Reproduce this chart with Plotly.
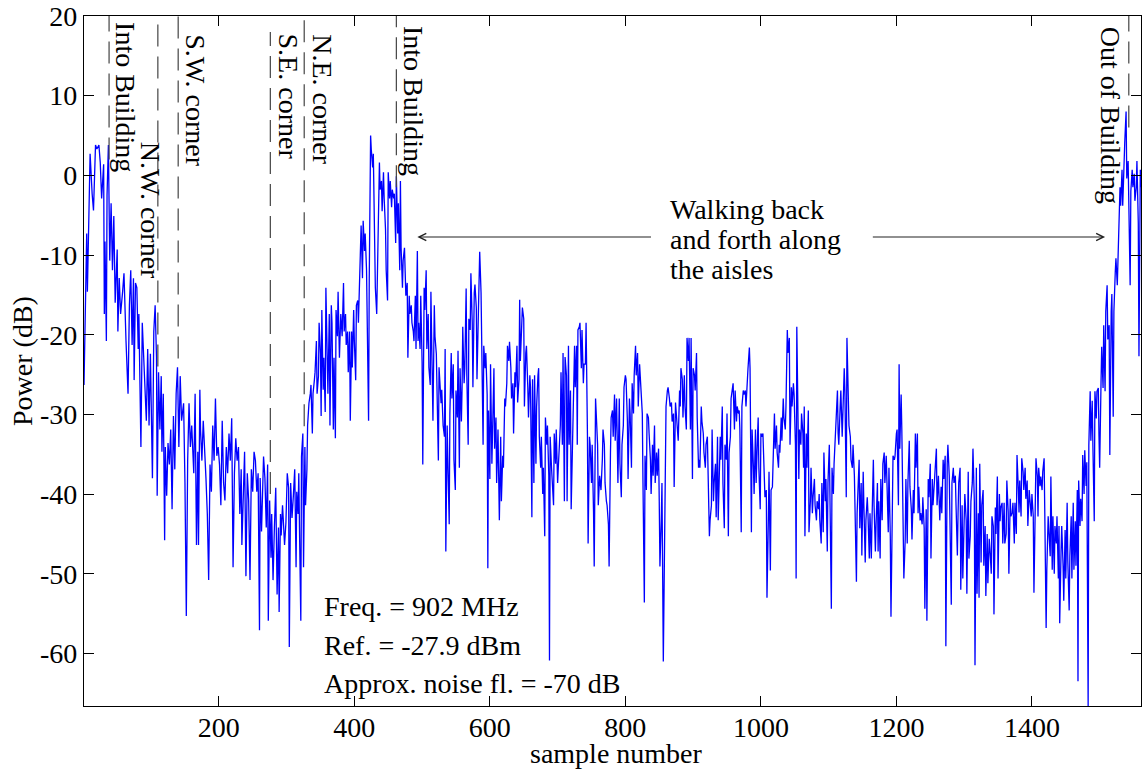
import plotly.graph_objects as go

# Received power while walking through the building (sample number vs dB)
samples_a = [1, 5, 6, 10, 13, 15, 18, 20, 23, 25, 27, 30, 31, 32, 34, 35, 37, 39, 41, 43,
             45, 47, 50, 51, 53, 55, 58, 60, 63, 65, 66, 68, 70, 72, 74, 75, 77, 79, 81, 82,
             84, 85, 87, 89, 91, 93, 95, 97, 99, 100, 102, 104, 106, 108, 109, 111, 113, 115, 116, 118,
             120, 121, 123, 125, 127, 129, 131, 133, 135, 137, 139, 141, 143, 145, 148, 150, 152, 154, 156, 158,
             160, 163, 165, 167, 169, 170, 172, 173, 175, 177, 179, 181, 183, 185, 187, 189, 191, 193, 195, 197,
             199, 201, 203, 205, 207, 209, 211, 213, 215, 217, 219, 221, 223, 225, 227, 229, 231, 233, 234, 236,
             238, 240, 242, 244, 246, 248, 250, 252, 254, 256, 258, 260, 261, 263, 265]
power_a = [-26.3, -7.3, -14.6, 2.7, -2.3, -4.4, 3.8, 3.3, 3.8, 1.6, -2.9, 1.4, -17.4, -8.3, -20.8, -2.5, 3.8, -10.7, -3.5, -11.9,
           -5.1, -16, -9.3, -19.6, -12.9, -17.4, -14.6, -12.3, -20.8, -24.7, -27.4, -16.3, -11.9, -21.3, -12.9, -25.7, -13.5, -14.1, -21.8, -17.4,
           -25.7, -34.1, -18.5, -22.9, -25.2, -30.8, -21.8, -31.4, -22.4, -26.3, -38, -19.6, -16.3, -22.9, -40.2, -24.7, -31.9, -25.2, -34.7, -27.4,
           -45.8, -34.1, -40.2, -33.6, -36.3, -31.9, -41.9, -30.2, -36.9, -27.4, -24.1, -34.1, -25.2, -30.8, -28.6, -38.6, -55.3, -35.8, -28.6, -34.1,
           -31.4, -37.4, -27.4, -46.4, -34.7, -46.4, -26.9, -31.9, -35.8, -30.8, -34.1, -38, -42.5, -50.8, -36.3, -39.7, -31.4, -35.8, -28, -35.2,
           -34.1, -36.3, -41.4, -30.8, -38.6, -40.8, -34.1, -37.4, -32.4, -35.8, -30.5, -49.2, -37.4, -33, -35.8, -34.1, -42.5, -36.9, -46.4, -38.6,
           -34.7, -50.3, -37.4, -40.8, -50.8, -36.9, -39.7, -34.7, -35.8, -39.7, -37.4, -57.1, -38, -44.7, -36.9]

samples_b = [266, 268, 270, 272, 273, 275, 277, 278, 280, 282, 284, 286, 288, 289, 291, 292, 294, 295, 297, 299,
             301, 303, 304, 306, 308, 310, 312, 314, 315, 317, 318, 319, 321, 322, 324, 325, 327, 328, 330, 331,
             333, 335, 336, 338, 339, 341, 342, 344, 345, 347, 348, 350, 351, 352, 354, 355, 357, 358, 360, 361,
             363, 364, 366, 367, 369, 370, 372, 373, 375, 376, 378, 379, 380, 382, 384, 385, 387, 388, 390, 391,
             393, 394, 396, 397, 399, 400, 402, 403, 405, 406, 408, 409, 410, 412, 413, 415, 416, 418, 419, 421,
             422, 424, 425, 427, 428, 430, 431, 433, 434, 436, 437, 438, 440, 441, 443, 444, 446, 447, 449, 450,
             452, 453, 455, 456, 458, 459, 461, 462, 464, 465, 467, 468, 469, 471, 472, 474, 476, 478, 479, 481,
             482, 484, 485, 487, 488, 490, 491, 493, 494, 495, 497, 498, 500, 501, 503, 504, 506, 507, 509, 510,
             512, 513, 515, 516, 518, 519, 521, 522, 524, 525, 526, 528, 529, 531]
power_b = [-35.3, -38, -44.2, -36.3, -55.9, -40.8, -48, -42.5, -50.8, -44.2,
           -39.2, -52.6, -44.2, -54.8, -42.5, -45.2, -41.4, -43, -46.4, -43.6,
           -37.4, -39.2, -59.2, -38.6, -43, -40.2, -36.9, -49.2, -39.7, -42.5,
           -37.4, -44.2, -55.9, -35.3, -32.4, -49.2, -34.1, -41.4, -36.9, -31.4,
           -28.6, -27.4, -26.3, -32.4, -27.4, -25.7, -24.7, -20.8, -27.4, -25.2,
           -18.5, -22.4, -30.2, -16.9, -26.9, -22.9, -29.7, -14.1, -22.9, -27.4,
           -17.4, -31.4, -16.3, -18.5, -31.9, -22.9, -33, -16.9, -20.2, -14.6,
           -22.9, -20.8, -17.4, -20.2, -13.5, -19.6, -17.4, -21.3, -19.6, -24.7,
           -19.6, -30.8, -19.6, -24.1, -16.9, -20.8, -25.7, -16.3, -15.7, -18.5,
           -12.4, -10.7, -6.3, -12.9, -5.7, -9.5, -7.3, -11.9, -17.4, -30.8,
           -12.9, 5.0, 3.2, 1.0, 2.7, -6.3, -14.1, -17.4, -11.9, -6.3,
           1.6, -1.8, -0.7, -4.5, 0.4, -2.9, -6.8, -11.9, -15.7, 0.4,
           -2.9, -0.7, -4, -1.8, -2.9, -2.3, -8.5, -0.1, -7.3, -3.5,
           -11.9, -0.7, -9.1, -14.1, -10.7, -9.1, -15.1, -13.5, -22.9, -15.1,
           -17.4, -16.3, -18.5, -19.6, -20.8, -15.1, -21.8, -9.5, -20.8, -18.5,
           -21.8, -15.1, -23.5, -36.3, -14.1, -16.9, -11.9, -21.8, -17.4, -24.1,
           -26.3, -14.6, -29.7, -30.8, -16.3, -20.2, -22.4, -27.4, -35.8, -24.1,
           -26.3, -28.6, -26.9, -31.4]

samples_c = [533, 534, 535, 537, 538, 540, 541, 543, 544,
             546, 547, 549, 550, 552, 553, 555, 556, 558, 559,
             560, 562, 563, 565, 566, 568, 569, 571, 572, 574,
             575, 577, 578, 580, 581, 583, 584, 585, 587, 588,
             590, 591, 593, 594, 596, 597, 598, 600, 601, 603,
             604, 606, 607, 609, 610, 612, 613, 614, 616, 617,
             619, 620, 622, 623, 625, 626, 628, 629, 631, 632,
             634, 635, 637, 638, 640, 641, 643, 644, 645, 647,
             648, 650, 651, 653, 654, 656, 657, 659, 660, 662,
             663, 665, 666, 668, 669, 671, 672, 673, 675, 676,
             678, 679, 681, 682, 684, 685, 687, 688, 689, 691,
             692, 694, 695, 697, 698, 700, 701, 703, 704, 705,
             707, 708, 710, 711, 713, 714, 716, 717, 719, 720,
             722, 723, 725, 726, 728, 729, 730, 732, 733, 735,
             736, 738, 739, 741, 742, 744, 745, 747, 748, 750,
             751, 753, 754, 756, 757, 759, 760, 762, 763, 764,
             766, 767, 769, 770, 772, 773, 775, 776, 778, 779,
             781, 782, 784, 785, 787, 788, 789, 791, 792, 794,
             795, 797]
power_c = [-32.8, -21.8, -47.2, -31.4, -35.7, -43.8, -29.9, -22.3, -28,
           -23.7, -35.7, -39.5, -27, -30.4, -22, -36.7, -24.2, -30.9, -26.6,
           -19, -26.1, -24.2, -14.2, -25.1, -33.8, -18, -19.4, -12.3, -18.5,
           -26.6, -14.7, -13.7, -16.6, -25.6, -17.5, -12.3, -9.6, -14.7, -21.4,
           -33.8, -21.4, -24.2, -22.3, -27.5, -49.3, -29.5, -38.1, -23.7, -36.2,
           -29.9, -24.2, -34.3, -30.4, -38.6, -31.9, -37.7, -43.3, -32.8, -40.9,
           -35.2, -36.7, -28, -29, -26.1, -21.4, -23.3, -20.9, -24.2, -28,
           -26.1, -32.4, -24.7, -26.6, -21.4, -28.5, -25.6, -15.6, -23.3, -19.4,
           -16.6, -18, -29, -22.3, -21.4, -26.6, -30.4, -25.1, -26.6, -42.9,
           -25.6, -38.6, -25.1, -36.2, -29, -25.1, -24.2, -32.8, -36.7, -32.8,
           -40, -36.7, -45.3, -30.4, -33.8, -31.4, -37.7, -60.9, -32.8, -36.7,
           -39.1, -41.4, -32.4, -36.2, -31.9, -38.6, -36.7, -33.8, -31.4, -24.7,
           -33.8, -22.3, -40.9, -22.8, -25.1, -40.9, -21.4, -33.8, -27, -41.9,
           -32.8, -27, -21.4, -26.6, -21.4, -33.8, -19.4, -19, -18.5, -24.2,
           -19.4, -26.1, -23.7, -23.7, -18.5, -32.4, -46.2, -32.8, -33.8, -38.6,
           -33.8, -42.2, -49.1, -28, -29.9, -33.8, -41.4, -37.7, -38.6, -39.5,
           -35.7, -31.9, -33.8, -38.6, -40.9, -41.4, -43.8, -49.1, -34.8, -30.4,
           -29.5, -32.8, -27.5, -33.3, -28, -33.8, -38.6, -28, -36.2, -40.4,
           -33.8, -31.4]

samples_d = [798, 800, 801, 803, 804, 806, 807, 809, 810, 812,
             813, 815, 816, 818, 819, 821, 822, 823, 825, 826,
             828, 829, 831, 832, 834, 835, 837, 838, 840, 841,
             843, 844, 846, 847, 849, 850, 851, 853, 854, 856,
             857, 859, 860, 862, 863, 865, 866, 868, 869, 871,
             872, 874, 875, 877, 878, 880, 881, 882, 884, 885,
             887, 888, 890, 891, 893, 894, 896, 897, 899, 900,
             902, 903, 905, 906, 908, 909, 910, 912, 913, 915,
             916, 918, 919, 921, 922, 924, 925, 927, 928, 930,
             931, 933, 934, 936, 937, 939, 940, 941, 943, 944,
             946, 947, 949, 950, 952, 953, 955, 956, 958, 959,
             961, 962, 964, 965, 967, 968, 969, 971, 972, 974,
             975, 977, 978, 980, 981, 983, 984, 986, 987, 989,
             990, 992, 993, 995, 996, 997, 999, 1000, 1002, 1003,
             1005, 1006, 1008, 1009, 1011, 1012, 1014, 1015, 1017, 1018,
             1020, 1021, 1023, 1024, 1026, 1027, 1028, 1030, 1031, 1033,
             1034, 1036, 1037, 1039, 1040, 1042, 1043, 1045, 1046, 1048,
             1049, 1051, 1052, 1053, 1055, 1056, 1057, 1059, 1060, 1062]
power_d = [-26.6, -25.1, -25.6, -30.9, -38.1, -28, -29.9, -36.7, -26.1, -29.9,
           -25.1, -21.4, -25.1, -22.3, -29, -23.7, -25.1, -27, -29.9, -38.6,
           -53.6, -35.2, -39.5, -29.9, -30.4, -32.4, -35.7, -40, -33.8, -37.7,
           -31.4, -38.6, -34.8, -37.7, -34.3, -40.9, -49.1, -43.3, -38.6, -61,
           -50.6, -32.8, -29, -27, -26.6, -28, -29, -28.5, -30.9, -29.9,
           -39.1, -28.5, -29.9, -31.4, -33.3, -27, -29, -24.2, -25.6, -30.4,
           -25.1, -29, -31.9, -20.4, -23.3, -20.4, -31.9, -20.4, -38.1, -24.2,
           -25.1, -27, -22.3, -30.4, -36.7, -35.7, -36.7, -29, -30.9, -32.4,
           -34.8, -36.7, -33.8, -32.8, -38.6, -45.3, -43.3, -41.4, -31.9, -40.9,
           -38.6, -36.2, -42.9, -32.8, -43.3, -33.3, -32.8, -35.7, -29, -38.6,
           -44.3, -33.8, -35.7, -29.9, -45.3, -34.8, -32.8, -28, -26.1, -26.1,
           -31.9, -27, -30.9, -29, -29.9, -29.5, -31.9, -44.8, -29, -27,
           -27.5, -27, -29, -25.1, -24.2, -21.6, -24.2, -44.8, -31.9, -36.7,
           -40, -31.9, -38.6, -32.8, -30.4, -36.7, -41.9, -32.4, -32.8, -32.4,
           -38.6, -40.4, -39.5, -53, -43.3, -37.2, -49.6, -39.5, -39.1, -35.2,
           -29.9, -34.3, -31.4, -34.8, -36.7, -33.8, -34.8, -30.4, -33.3, -28,
           -30.4, -31.9, -29, -19.4, -22.3, -20.4, -33.8, -26.6, -29, -26.1,
           -27.5, -33.8, -50.6, -19, -33.8, -38.1, -31.9, -33.8, -29.9, -32.4]

samples_e = [1063, 1064, 1065, 1067, 1068, 1070, 1071, 1073, 1074, 1076,
             1077, 1079, 1080, 1082, 1083, 1085, 1086, 1087, 1089, 1090,
             1092, 1093, 1095, 1096, 1098, 1099, 1101, 1102, 1104, 1105,
             1107, 1108, 1110, 1111, 1113, 1114, 1115, 1117, 1118, 1120,
             1121, 1123, 1124, 1126, 1127, 1129, 1130, 1132, 1133, 1135,
             1136, 1138, 1139, 1141, 1142, 1144, 1145, 1146, 1148, 1149,
             1151, 1152, 1154, 1155, 1157, 1158, 1160, 1161, 1163, 1164,
             1166, 1167, 1169, 1170, 1172, 1173, 1174, 1176, 1177, 1179,
             1180, 1182, 1183, 1185, 1186, 1188, 1189, 1191, 1192, 1194,
             1195, 1197, 1198, 1200, 1201, 1203, 1204, 1205, 1207, 1208,
             1210, 1211, 1213, 1214, 1216, 1217, 1219, 1220, 1222, 1223,
             1225, 1226, 1228, 1229, 1231, 1232, 1233, 1235, 1236, 1238,
             1239, 1241, 1242, 1244, 1245, 1247, 1248, 1250, 1251, 1253,
             1254, 1256, 1257, 1259, 1260, 1262, 1263, 1264, 1266, 1267,
             1269, 1270, 1272, 1273, 1275, 1276, 1278, 1279, 1281, 1282,
             1284, 1285, 1287, 1288, 1290, 1291, 1292, 1294, 1295, 1297,
             1298, 1300, 1301, 1303, 1304, 1306, 1307, 1309, 1310, 1312,
             1313, 1315, 1316, 1318, 1319, 1321, 1322, 1323, 1325, 1326,
             1328]
power_e = [-36.7, -29, -45.3, -32.4, -36.7, -29.5, -44.8, -40.9, -36.7, -42.4,
           -40.4, -38.1, -41.4, -43.3, -40.9, -41.9, -40, -43.3, -46.2, -38.6,
           -44.8, -34.8, -40.9, -38.1, -47.2, -38.6, -33.8, -40, -54.4, -36.7,
           -40, -36.2, -32.8, -29.5, -27, -32.4, -33.8, -29, -27, -32.8,
           -29, -24.2, -27, -40.4, -20.4, -30.9, -31.4, -32.8, -35.7, -36.7,
           -33.8, -37.7, -41.9, -51, -42.4, -38.6, -35.7, -44.3, -38.6, -47.7,
           -37.2, -41.4, -48.6, -43.3, -40.4, -42.4, -48.1, -42.4, -48.1, -43.3,
           -35.7, -41.4, -47.2, -43.8, -38.6, -47.2, -40.9, -48.1, -38.1, -43.3,
           -36.2, -34.8, -38.6, -35.2, -38.6, -44.8, -36.7, -45.3, -55.4, -36.7,
           -35.2, -35.7, -35.2, -32.4, -31.9, -41.4, -23.7, -34.3, -27.5, -31.9,
           -41.4, -50.6, -45.7, -38.1, -46.2, -38.6, -33.3, -39.1, -41.9, -45.7,
           -39.5, -42.4, -32.4, -36.7, -32.4, -42.4, -39.1, -43.3, -42.4, -43.8,
           -40.4, -44.3, -54.4, -41.9, -55.9, -38.1, -40.4, -36.2, -48.1, -38.1,
           -41.4, -38.6, -35.7, -34.3, -41.4, -37.7, -40.4, -43.3, -39.1, -42.4,
           -35.7, -38.1, -35.2, -59.1, -36.2, -33.8, -37.7, -42.4, -53.9, -38.6,
           -36.7, -38.6, -37.7, -41.4, -47.7, -42.4, -38.6, -36.7, -52, -41.4,
           -50.6, -43.3, -40, -43.3, -52.5, -37.2, -48.1, -45.3, -40.9, -38.6,
           -34.3, -40.9, -61.5, -36.7, -52.5, -42.4, -53, -36.2, -48.6, -41.4,
           -39.5]

samples_f = [1329, 1331, 1332, 1334, 1335, 1337, 1338, 1340, 1341, 1343,
             1344, 1346, 1347, 1349, 1350, 1352, 1353, 1354, 1356, 1357,
             1359, 1360, 1362, 1363, 1365, 1366, 1368, 1369, 1371, 1372,
             1374, 1375, 1377, 1378, 1380, 1381, 1382, 1384, 1385, 1387,
             1388, 1390, 1391, 1393, 1394, 1396, 1397, 1399, 1400, 1402,
             1403, 1405, 1406, 1408, 1409, 1410, 1412, 1413, 1415, 1416,
             1418, 1419, 1421, 1422, 1424, 1425, 1427, 1428, 1430, 1431,
             1433, 1434, 1436, 1437, 1439, 1440, 1441, 1443, 1444, 1446,
             1447, 1449, 1450, 1452, 1453, 1455, 1456, 1458, 1459, 1461,
             1462, 1464, 1465, 1467, 1468, 1469, 1471, 1472, 1474, 1475,
             1477, 1478, 1480, 1481, 1483, 1484, 1486, 1487, 1489, 1490,
             1492, 1493, 1495, 1496, 1498, 1499, 1500, 1502, 1503, 1505,
             1506, 1508, 1509, 1511, 1512, 1514, 1515, 1517, 1518, 1520,
             1521, 1523, 1524, 1526, 1527, 1528, 1530, 1531, 1533, 1534,
             1536, 1537, 1539, 1540, 1542, 1543, 1545, 1546, 1548, 1549,
             1551, 1552, 1554, 1555, 1557, 1558, 1559, 1560, 1561]
power_f = [-49, -44, -52.8, -45, -51.2, -45.6, -46.8, -50, -42.8, -44,
           -55.1, -41.7, -45, -37.8, -50.6, -40, -43.4, -41.7, -41.1, -46.2,
           -41.1, -46.2, -45, -38.3, -42.3, -50, -40.6, -42.8, -42.3, -41.1,
           -46.2, -41.1, -45, -35.1, -39.5, -42.3, -38.3, -42.8, -35.5, -37.2,
           -39.5, -36.7, -40.6, -38.3, -44, -39.5, -40.6, -42.8, -40, -42.8,
           -52.4, -38.3, -35.5, -37.8, -42.8, -36.7, -39, -37.8, -39.5, -37.2,
           -35.5, -42.3, -56.8, -49.5, -42.8, -44.5, -47.8, -37.8, -49.5, -42.8,
           -50, -44, -46.2, -42.8, -50.6, -44, -56.2, -47.2, -44, -49,
           -53.4, -44.5, -50.6, -41.1, -48.4, -54.6, -47.8, -42.8, -50.6, -41.1,
           -49.5, -43.4, -49, -39.5, -63.5, -38.3, -44, -40.6, -43.4, -35.1,
           -40, -34.5, -39, -36, -66.6, -33.9, -27.1, -33.3, -28.3, -33.9,
           -43.4, -27.1, -30.5, -27.1, -26.7, -32.7, -36.7, -26.1, -21.5, -26.7,
           -18.8, -27.1, -17.1, -13.8, -20.6, -18.8, -35.1, -17.1, -14.9, -30.3,
           -17.1, -12.2, -10.4, -13.8, -10.4, -7.6, -1.5, -3.8, 0.7, -3.8,
           3, 4.1, 8, -0.4, 1.8, -3.2, -13.8, -2, 0.7, -1.5,
           0.2, -3.2, -1.5, 1.8, -6, -22.7, -7.1, 0.7, -1.5]

# Marked events along the walk
event_sample = [38, 110, 140, 276, 326, 462, 1543]
event_label = ["Into Building", "N.W. corner", "S.W. corner", "S.E. corner",
               "N.E. corner", "Into Building", "Out of Building"]
event_line_top = [20, 20, 20, 18, 20, 20, 20]
event_line_bottom = [2, -24, -23, -40, -31.5, -1.5, 6]

# "Walking back and forth" span
aisle_start = 493
aisle_end = 1508
aisle_text_left = 840
aisle_text_right = 1163

x_ticks = [200, 400, 600, 800, 1000, 1200, 1400]
y_ticks = [-60, -50, -40, -30, -20, -10, 0, 10, 20]
y_tick_text = ["-60", "-50", "-40", "-30", "-20", "-10", "0", "10", "20"]

info_lines = ["Freq. = 902 MHz", "Ref. = -27.9 dBm", "Approx. noise fl. = -70 dB"]
walk_lines = ["Walking back", "and forth along", "the aisles"]

samples = samples_a + samples_b + samples_c + samples_d + samples_e + samples_f
power = power_a + power_b + power_c + power_d + power_e + power_f

serif = "Liberation Serif"

fig = go.Figure()
fig.add_trace(go.Scatter(x=samples, y=power, mode="lines",
                         line=dict(color="#0000ff", width=1.3), hoverinfo="skip"))

# dashed event markers and rotated labels
label_shift = [17, -8, 17, 18, 18, 17, -18]
label_top = [0.994, 0.82, 0.977, 0.977, 0.977, 0.988, 0.987]
for i, s in enumerate(event_sample):
    fig.add_shape(type="line", xref="x", yref="y", x0=s, x1=s,
                  y0=event_line_bottom[i], y1=event_line_top[i],
                  line=dict(color="#444444", width=1.2, dash="22px,10px"))
    fig.add_annotation(x=s, xref="x", y=label_top[i], yref="paper",
                       text=event_label[i], textangle=90, showarrow=False,
                       xanchor="center", yanchor="top", xshift=label_shift[i],
                       font=dict(family=serif, size=28, color="black"))

# arrows for the aisle walking span
arrow_y = 0.6797
fig.add_annotation(x=aisle_start, xref="x", y=arrow_y, yref="paper",
                   ax=aisle_text_left, axref="x", ay=0, ayref="pixel",
                   text="", showarrow=True, arrowhead=5, arrowsize=1.2,
                   arrowwidth=1.2, arrowcolor="#222222")
fig.add_annotation(x=aisle_end, xref="x", y=arrow_y, yref="paper",
                   ax=aisle_text_right, axref="x", ay=0, ayref="pixel",
                   text="", showarrow=True, arrowhead=5, arrowsize=1.2,
                   arrowwidth=1.2, arrowcolor="#222222")

for txt, yy in zip(walk_lines, [0.719, 0.6754, 0.6333]):
    fig.add_annotation(x=0.5525, xref="paper", y=yy, yref="paper", text=txt,
                       showarrow=False, xanchor="left", yanchor="middle",
                       font=dict(family=serif, size=28, color="black"))

for txt, yy in zip(info_lines, [0.1435, 0.0884, 0.0319]):
    fig.add_annotation(x=0.2252, xref="paper", y=yy, yref="paper", text=txt,
                       showarrow=False, xanchor="left", yanchor="middle",
                       font=dict(family=serif, size=28, color="black"))

# axis titles
fig.add_annotation(x=-0.0587, xref="paper", y=0.5, yref="paper", text="Power (dB)",
                   textangle=-90, showarrow=False, xanchor="center", yanchor="middle",
                   font=dict(family=serif, size=28, color="black"))
fig.add_annotation(x=0.504, xref="paper", y=-0.069, yref="paper", text="sample number",
                   showarrow=False, xanchor="center", yanchor="middle",
                   font=dict(family=serif, size=28, color="black"))

fig.update_layout(
    width=1142,
    height=770,
    margin=dict(l=84, r=1, t=16, b=64),
    plot_bgcolor="white",
    paper_bgcolor="white",
    showlegend=False,
    font=dict(family=serif, size=28, color="black"),
)
fig.update_xaxes(range=[1, 1561], tickvals=x_ticks, ticks="inside", ticklen=10,
                 tickwidth=1, tickcolor="black", showline=True, linecolor="black",
                 linewidth=1.3, mirror="ticks", showgrid=False, zeroline=False,
                 ticklabelstandoff=-4)
fig.update_yaxes(range=[min(power), 20], tickvals=y_ticks, ticktext=y_tick_text,
                 ticks="inside", ticklen=10, tickwidth=1, tickcolor="black",
                 showline=True, linecolor="black", linewidth=1.3, mirror="ticks",
                 showgrid=False, zeroline=False)

# page body has a default margin; drop it so the figure sits at the window corner
fig.write_html("out.html", config={"displayModeBar": False},
               post_script="document.body.style.margin='0';")
